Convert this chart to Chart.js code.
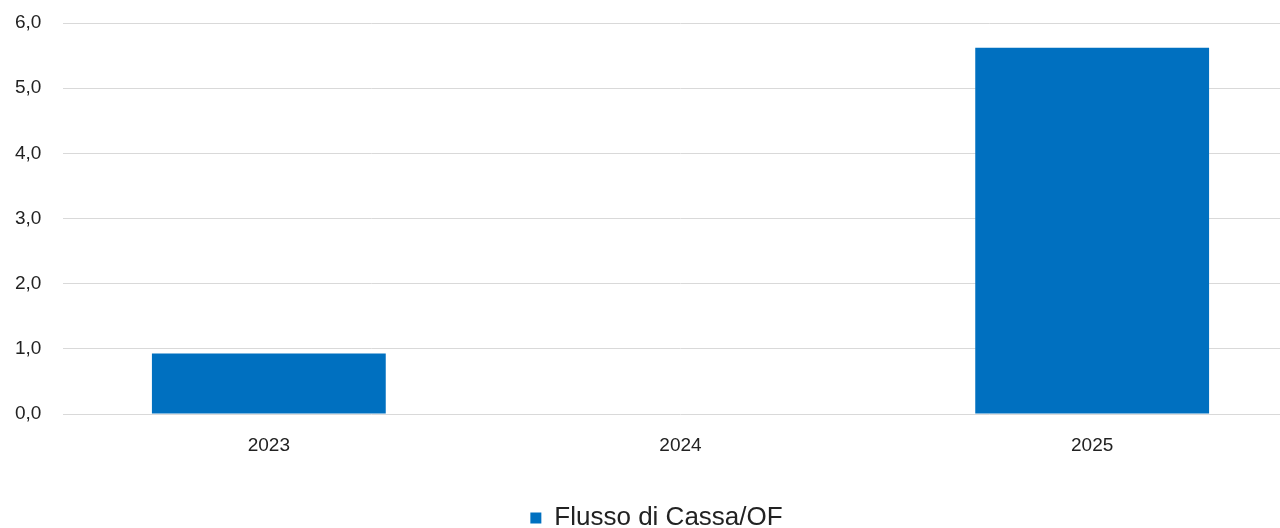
<!DOCTYPE html>
<html>
<head>
<meta charset="utf-8">
<script src="https://cdn.jsdelivr.net/npm/chart.js@4"></script>
<style>
  html, body { margin: 0; padding: 0; background: #fff; overflow: hidden; width: 1280px; height: 528px; }
  #wrap { position: absolute; left: 0; top: 0; width: 1310px; height: 541px; }
</style>
</head>
<body>
<div id="wrap"><canvas id="c"></canvas></div>
<script>
const categories = ['2023', '2024', '2025'];
const seriesName = 'Flusso di Cassa/OF';
const seriesValues = [0.93, null, 5.62];
const yTicks = [0, 1, 2, 3, 4, 5, 6];

const FONT = '"Liberation Sans", Arial, sans-serif';
const TEXT = '#222222';

new Chart(document.getElementById('c'), {
  type: 'bar',
  data: {
    labels: categories,
    datasets: [{
      label: seriesName,
      data: seriesValues,
      backgroundColor: '#0070C0',
      borderWidth: 0,
      categoryPercentage: 1,
      barPercentage: 0.568
    }]
  },
  options: {
    responsive: true,
    maintainAspectRatio: false,
    animation: false,
    devicePixelRatio: 1,
    layout: { padding: { top: 23, right: 12, left: 15, bottom: 0 } },
    plugins: {
      tooltip: { enabled: false },
      legend: {
        position: 'bottom',
        labels: {
          boxWidth: 11, boxHeight: 11, padding: 4,
          color: TEXT, font: { family: FONT, size: 26 }
        }
      }
    },
    scales: {
      x: {
        grid: { display: false, drawTicks: false },
        border: { display: false },
        ticks: { color: TEXT, font: { family: FONT, size: 19 }, padding: 20 },
        afterFit: (s) => { s.height = 87; }
      },
      y: {
        min: 0, max: 6,
        afterBuildTicks: (s) => { s.ticks = yTicks.map(v => ({ value: v })); },
        grid: { color: '#d9d9d9', lineWidth: 1, drawTicks: false },
        border: { display: false },
        ticks: {
          color: TEXT, font: { family: FONT, size: 19 }, padding: 0, crossAlign: 'far',
          callback: (v) => Number(v).toFixed(1).replace('.', ',')
        },
        afterFit: (s) => { s.width = 48; }
      }
    }
  }
});
</script>
</body>
</html>
